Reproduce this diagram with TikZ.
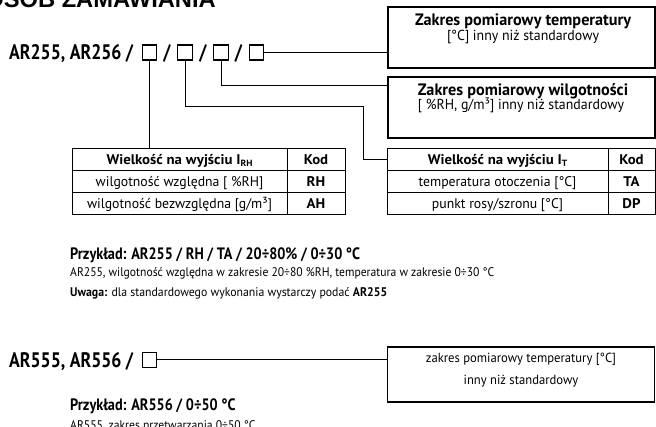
\documentclass[tikz,border=0pt]{standalone}
\usepackage{fontspec}
\setmainfont{PT Sans}
\newfontfamily\titlefont{Liberation Sans}
\usetikzlibrary{calc}
\newlength\calibl
\newcommand\calibrate[3]{\settowidth{\calibl}{#2}\pgfmathsetmacro#1{#3/\calibl}}
\newcommand\fBig{\fontsize{21}{24}\selectfont\bfseries}
\newcommand\fHdr{\fontsize{16.5}{19}\selectfont\bfseries}
\newcommand\fSub{\fontsize{14.5}{17}\selectfont}
\newcommand\fSubB{\fontsize{13.2}{16}\selectfont}
\newcommand\fTabB{\fontsize{14}{16}\selectfont\bfseries}
\newcommand\fTab{\fontsize{14}{16}\selectfont}
\newcommand\fExB{\fontsize{16.5}{19}\selectfont\bfseries}
\newcommand\fEx{\fontsize{12.5}{14}\selectfont}
\newcommand\tBig[1]{\scalebox{\scBig}[1]{\fBig #1}}
\newcommand\tHdr[1]{\scalebox{\scHdr}[1]{\fHdr #1}}
\newcommand\tSub[1]{\scalebox{\scSub}[1]{\fSub #1}}
\newcommand\tSubB[1]{\scalebox{\scSub}[1]{\fSubB #1}}
\newcommand\tTabB[1]{\scalebox{\scTabB}[1]{\fTabB #1}}
\newcommand\tTab[1]{\scalebox{\scTab}[1]{\fTab #1}}
\newcommand\tExB[1]{\scalebox{\scExB}[1]{\fExB #1}}
\newcommand\tEx[1]{\scalebox{\scEx}[1]{\fEx #1}}
\newcommand\tExR[1]{\scalebox{\scExR}[1]{\fEx #1}}
\newcommand\idx[1]{\raisebox{-0.3ex}{\fontsize{9}{10}\selectfont #1}}
\begin{document}
\calibrate\scBig{\fBig AR255, AR256 /}{124}%
\calibrate\scHdr{\fHdr Zakres pomiarowy temperatury}{216}%
\calibrate\scSub{\fSub [°C] inny niż standardowy}{152}%
\calibrate\scTabB{\fTabB Wielkość na wyjściu I\idx{RH}}{146}%
\calibrate\scTab{\fTab wilgotność bezwzględna [g/m³]}{185}%
\calibrate\scExB{\fExB Przykład: AR255 / RH / TA / 20÷80\% / 0÷30 °C}{290}%
\calibrate\scEx{\fEx \textbf{Uwaga:} dla standardowego wykonania wystarczy podać \textbf{AR255}}{317}%
\calibrate\scExR{\fEx AR255, wilgotność względna w zakresie 20÷80 \%RH, temperatura w zakresie 0÷30 °C}{424}%
\begin{tikzpicture}[x=1pt,y=-1pt,
  txt/.style={inner sep=0pt,anchor=base west,text=black},
  ctxt/.style={inner sep=0pt,anchor=base,text=black},
  sq/.style={draw,line width=1.4pt,minimum width=14.5pt,minimum height=15pt,inner sep=0pt},
  conn/.style={line width=1pt},
  bigbox/.style={draw,line width=1.1pt,minimum width=267pt,inner sep=0pt},
  cell/.style={draw,line width=0.9pt,inner sep=0pt,minimum height=22pt,text height=10pt,text depth=0pt},
]
\useasboundingbox (0,0) rectangle (656,427);
% title (cut at top)
\node[inner sep=0pt,anchor=base east,font=\titlefont\fontsize{23.7}{26}\selectfont\bfseries] (title) at (216,8) {SPOSÓB ZAMAWIANIA};

% ---------- top ordering code ----------
\node[txt] (code1) at (9,60) {\tBig{AR255, AR256 /}};
\node[sq] (s1) at (149.5,52.5) {};
\node[ctxt] (sl1) at (167,60) {\tBig{/}};
\node[sq] (s2) at (185,52.5) {};
\node[ctxt] (sl2) at (203,60) {\tBig{/}};
\node[sq] (s3) at (221,52.5) {};
\node[ctxt] (sl3) at (238.5,60) {\tBig{/}};
\node[sq] (s4) at (256.5,52.5) {};

% temperature range box
\node[bigbox,minimum height=61pt] (tb) at (521.5,37.5) {};
\node[ctxt] (tbt1) at (523,26) {\tHdr{Zakres pomiarowy temperatury}};
\node[ctxt] (tbt2) at (523,40.5) {\tSub{[°C] inny niż standardowy}};

% humidity range box
\node[bigbox,minimum height=61pt] (hb) at (521.5,107.5) {};
\node[ctxt] (hbt1) at (523,95.5) {\tHdr{Zakres pomiarowy wilgotności}};
\node[ctxt] (hbt2) at (521,110) {\tSub{[ \%RH, g/m³] inny niż standardowy}};

% RH table
\node[cell,minimum width=215pt] (rh0a) at (179.5,159.5) {\tTabB{Wielkość na wyjściu I\idx{RH}}};
\node[cell,minimum width=58pt] (rh0b) at (316,159.5) {\tTabB{Kod}};
\node[cell,minimum width=215pt] (rh1a) at (179.5,181.5) {\tTab{wilgotność względna [ \%RH]}};
\node[cell,minimum width=58pt] (rh1b) at (316,181.5) {\tTabB{RH}};
\node[cell,minimum width=215pt] (rh2a) at (179.5,203.5) {\tTab{wilgotność bezwzględna [g/m³]}};
\node[cell,minimum width=58pt] (rh2b) at (316,203.5) {\tTabB{AH}};

% T table
\node[cell,minimum width=221pt] (t0a) at (497.5,159.5) {\tTabB{Wielkość na wyjściu I\idx{T}}};
\node[cell,minimum width=47pt] (t0b) at (631.5,159.5) {\tTabB{Kod}};
\node[cell,minimum width=221pt] (t1a) at (497.5,181.5) {\tTab{temperatura otoczenia [°C]}};
\node[cell,minimum width=47pt] (t1b) at (631.5,181.5) {\tTabB{TA}};
\node[cell,minimum width=221pt] (t2a) at (497.5,203.5) {\tTab{punkt rosy/szronu [°C]}};
\node[cell,minimum width=47pt] (t2b) at (631.5,203.5) {\tTabB{DP}};

% connectors
\coordinate (k3) at ($(hb.north west)+(0,9)$);
\coordinate (k2) at (363,107);
\draw[conn] (s4.east) -- (s4.east -| tb.west);
\draw[conn] (s3.south) |- (k3);
\draw[conn] (s2.south) |- (k2) |- (t0a.west);
\draw[conn] (s1.south) -- (s1.south |- rh0a.north);

% example 1
\node[txt] (ex1) at (70,259.5) {\tExB{Przykład: AR255 / RH / TA / 20÷80\% / 0÷30 °C}};
\node[txt] (ex2) at (70,276.5) {\tExR{AR255, wilgotność względna w zakresie 20÷80 \%RH, temperatura w zakresie 0÷30 °C}};
\node[txt] (ex3) at (70,296.5) {\tEx{\textbf{Uwaga:} dla standardowego wykonania wystarczy podać \textbf{AR255}}};

% ---------- bottom ordering code ----------
\node[txt] (code2) at (9,367.5) {\tBig{AR555, AR556 /}};
\node[sq] (s5) at (149.5,360) {};
\node[bigbox,minimum height=55pt] (bb) at (521,374.5) {};
\node[ctxt] (bbt1) at (521,362.5) {\tSubB{zakres pomiarowy temperatury [°C]}};
\node[ctxt] (bbt2) at (521,384.5) {\tSubB{inny niż standardowy}};
\draw[conn] (s5.east) -- (s5.east -| bb.west);

\node[txt] (ex4) at (70,411) {\tExB{Przykład: AR556 / 0÷50 °C}};
\node[txt] (ex5) at (70,429) {\tExR{AR555, zakres przetwarzania 0÷50 °C}};
\end{tikzpicture}
\end{document}
